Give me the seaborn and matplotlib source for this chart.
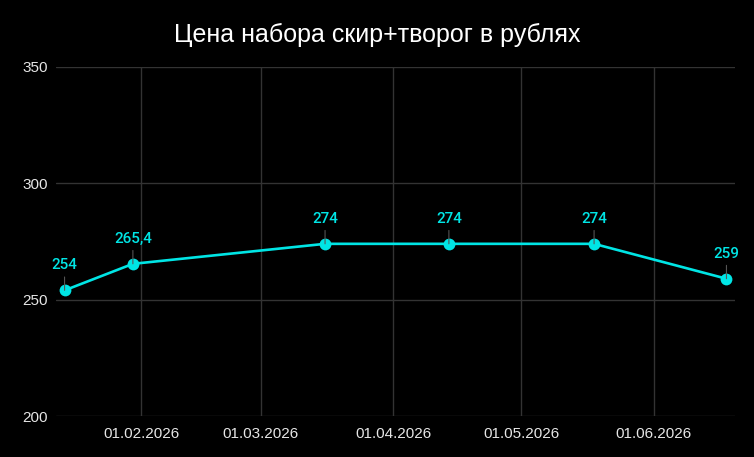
import matplotlib
matplotlib.use("Agg")
import matplotlib.pyplot as plt
import matplotlib.dates as mdates
import seaborn as sns
import pandas as pd

dates = ["2026-01-14", "2026-01-30", "2026-03-16", "2026-04-14", "2026-05-18", "2026-06-18"]
prices = [254, 265.4, 274, 274, 274, 259]
price_labels = ["254", "265,4", "274", "274", "274", "259"]
title = "Цена набора скир+творог в рублях"
y_ticks = [200, 250, 300, 350]

df = pd.DataFrame({"date": pd.to_datetime(dates), "price": prices})

sns.set_theme(style="dark")
plt.rcParams['font.family'] = ['Liberation Sans', 'DejaVu Sans']

fig = plt.figure(figsize=(7.54, 4.57), dpi=100, facecolor="black")
ax = fig.add_axes([0.0743, 0.0897, 0.9005, 0.7637])
ax.set_facecolor("black")

cyan = "#00e5e5"
sns.lineplot(data=df, x="date", y="price", ax=ax, color=cyan, linewidth=1.9,
             marker="o", markersize=8.5, markeredgewidth=0, zorder=3)

for d, v, lab in zip(df["date"], prices, price_labels):
    ax.annotate(lab, xy=(d, v), xytext=(0, 13), textcoords="offset points",
                ha="center", va="bottom", color=cyan, fontsize=11,
                family=["Roboto", "DejaVu Sans"], fontweight="medium",
                arrowprops=dict(arrowstyle="-", color="#555555", lw=0.8,
                                shrinkA=1, shrinkB=0), zorder=4)

ax.set_ylim(200, 350)
ax.set_yticks(y_ticks)
ax.set_xlim(pd.Timestamp("2026-01-12"), pd.Timestamp("2026-06-20"))
ax.xaxis.set_major_locator(mdates.MonthLocator(bymonth=[2, 3, 4, 5, 6]))
ax.xaxis.set_major_formatter(mdates.DateFormatter("%d.%m.%Y"))

ax.grid(True, color="#333333", linewidth=1)
for s in ax.spines.values():
    s.set_visible(False)
ax.tick_params(colors="#e6e6e6", labelsize=11, length=0, pad=8)
ax.tick_params(axis="y", pad=6)
ax.set_xlabel("")
ax.set_ylabel("")

fig.suptitle(title, color="white", fontsize=18, y=0.95)

fig.savefig("out.png", dpi=100, facecolor="black")
